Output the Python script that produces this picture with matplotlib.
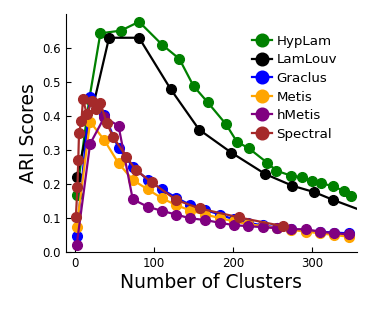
import matplotlib
matplotlib.use("Agg")
import matplotlib.pyplot as plt

# HypLam
hyp_x = [2, 18, 32, 58, 81, 110, 132, 150, 168, 191, 205, 220, 243, 255, 274, 287, 300, 312, 326, 340, 349]
hyp_y = [0.168, 0.45, 0.643, 0.651, 0.677, 0.61, 0.568, 0.488, 0.44, 0.376, 0.324, 0.305, 0.263, 0.239,
         0.224, 0.22, 0.209, 0.202, 0.194, 0.18, 0.166]

# LamLouv
lam_x = [2, 43, 81, 121, 157, 198, 241, 275, 303, 327, 372]
lam_y = [0.221, 0.63, 0.63, 0.479, 0.36, 0.292, 0.229, 0.195, 0.176, 0.153, 0.114]

# Graclus / Metis / hMetis share the same cluster counts
grid_x = [2, 19, 37, 55, 73, 92, 110, 128, 146, 165, 183, 201, 219, 238, 256, 274, 292, 310, 328, 347]
graclus_y = [0.048, 0.457, 0.403, 0.305, 0.251, 0.212, 0.184, 0.16, 0.138, 0.124, 0.11, 0.096, 0.086,
             0.078, 0.072, 0.067, 0.063, 0.06, 0.057, 0.055]
metis_y = [0.074, 0.383, 0.329, 0.261, 0.212, 0.184, 0.158, 0.138, 0.122, 0.11, 0.1, 0.09, 0.082,
           0.076, 0.07, 0.065, 0.06, 0.055, 0.05, 0.045]
hmetis_y = [0.02, 0.318, 0.396, 0.371, 0.155, 0.133, 0.121, 0.11, 0.099, 0.094, 0.086, 0.079, 0.076,
            0.073, 0.07, 0.067, 0.067, 0.06, 0.055, 0.052]

# Spectral
spec_x = [1, 3, 4, 5, 8, 10, 15, 21, 26, 32, 40, 48, 65, 77, 97, 128, 158, 207, 263]
spec_y = [0.104, 0.192, 0.27, 0.351, 0.384, 0.449, 0.405, 0.443, 0.42, 0.439, 0.38, 0.339, 0.28,
          0.241, 0.205, 0.153, 0.128, 0.102, 0.076]

fig = plt.figure(figsize=(3.74, 3.12), dpi=100)
ax = fig.add_axes([0.1765, 0.1923, 0.778, 0.763])

style = dict(marker="o", markersize=7, linewidth=1.6)
ax.plot(hyp_x, hyp_y, color="green", label="HypLam", **style)
ax.plot(lam_x, lam_y, color="black", label="LamLouv", **style)
ax.plot(grid_x, graclus_y, color="blue", label="Graclus", **style)
ax.plot(grid_x, metis_y, color="orange", label="Metis", **style)
ax.plot(grid_x, hmetis_y, color="purple", label="hMetis", **style)
ax.plot(spec_x, spec_y, color="brown", label="Spectral", **style)

ax.set_xlim(-11.5, 357)
ax.set_ylim(0, 0.7)
ax.set_xticks([0, 100, 200, 300])
ax.set_yticks([0.0, 0.1, 0.2, 0.3, 0.4, 0.5, 0.6])
ax.set_yticklabels(["0.0", "0.1", "0.2", "0.3", "0.4", "0.5", "0.6"])
ax.tick_params(direction="in", labelsize=8.5, length=3.5)
ax.spines["top"].set_visible(False)
ax.spines["right"].set_visible(False)

ax.set_xlabel("Number of Clusters", fontsize=13.5, labelpad=2)
ax.set_ylabel("ARI Scores", fontsize=13.5, labelpad=3)

ax.legend(loc="upper right", bbox_to_anchor=(0.95, 0.935), frameon=False, fontsize=9.6,
          handlelength=1.5, handletextpad=0.35, labelspacing=0.42, borderaxespad=0.0,
          markerscale=1.3)

fig.savefig("out.png", dpi=100)
